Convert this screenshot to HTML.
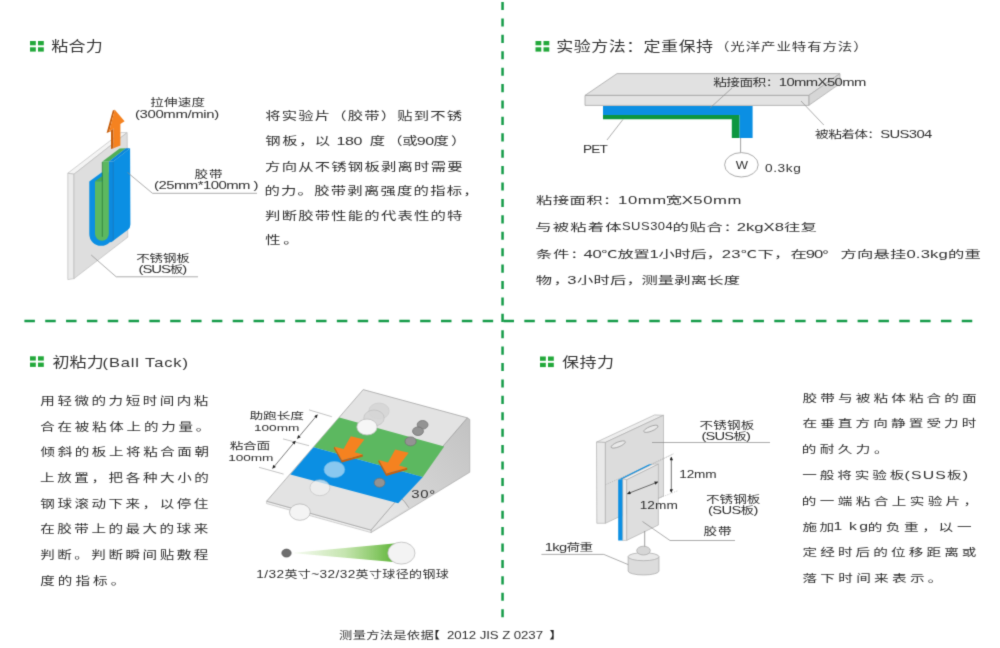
<!DOCTYPE html>
<html lang="zh-CN">
<head>
<meta charset="utf-8">
<title>粘合力 / 初粘力 / 保持力 测量方法</title>
<style>
html,body{margin:0;padding:0;background:#fff;}
body{width:1000px;height:648px;overflow:hidden;position:relative;font-family:"Liberation Sans","Noto Sans CJK SC",sans-serif;}
svg{position:absolute;left:0;top:0;display:block;}
</style>
</head>
<body>
<svg width="1000" height="648" viewBox="0 0 1000 648">
<defs>

<filter id="soft" x="0" y="0" width="1000" height="648" filterUnits="userSpaceOnUse" color-interpolation-filters="sRGB">
<feConvolveMatrix order="3" kernelMatrix="0.0170 0.0960 0.0170 0.0960 0.5480 0.0960 0.0170 0.0960 0.0170" edgeMode="none" preserveAlpha="false"/>
</filter>
<linearGradient id="cone" x1="0" x2="1" y1="0" y2="0">
<stop offset="0" stop-color="#7cc342" stop-opacity="0.05"/>
<stop offset="0.5" stop-color="#74c040" stop-opacity="0.42"/>
<stop offset="1" stop-color="#55b02f" stop-opacity="1"/>
</linearGradient>
<linearGradient id="side3" x1="0" x2="1" y1="1" y2="0">
<stop offset="0" stop-color="#e0e0e0"/>
<stop offset="1" stop-color="#c2c2c2"/>
</linearGradient>
<marker id="ah" viewBox="0 0 10 10" refX="9" refY="5" markerWidth="6.5" markerHeight="5" orient="auto-start-reverse">
<path d="M0 0 L10 5 L0 10 z" fill="#222"/>
</marker>
</defs>
<g filter="url(#soft)">
<path d="M502.55 2 V618" stroke="#149b48" stroke-width="2.5" stroke-dasharray="8.1 8.31" fill="none"/>
<path d="M24.4 320.9 H973" stroke="#149b48" stroke-width="2.5" stroke-dasharray="10.5 10.33" fill="none"/>
<g fill="#22a83a"><rect x="30.0" y="41.0" width="5.8" height="4.3"/><rect x="30.0" y="47.3" width="5.8" height="4.3"/><rect x="38.0" y="41.0" width="5.8" height="4.3"/><rect x="38.0" y="47.3" width="5.8" height="4.3"/></g>
<g fill="#22a83a"><rect x="535.5" y="41.0" width="5.8" height="4.3"/><rect x="535.5" y="47.3" width="5.8" height="4.3"/><rect x="543.5" y="41.0" width="5.8" height="4.3"/><rect x="543.5" y="47.3" width="5.8" height="4.3"/></g>
<g fill="#22a83a"><rect x="30.0" y="356.3" width="5.8" height="4.3"/><rect x="30.0" y="362.6" width="5.8" height="4.3"/><rect x="38.0" y="356.3" width="5.8" height="4.3"/><rect x="38.0" y="362.6" width="5.8" height="4.3"/></g>
<g fill="#22a83a"><rect x="540.0" y="356.5" width="5.8" height="4.3"/><rect x="540.0" y="362.8" width="5.8" height="4.3"/><rect x="548.0" y="356.5" width="5.8" height="4.3"/><rect x="548.0" y="362.8" width="5.8" height="4.3"/></g>

<g stroke-linejoin="round">
<!-- steel plate -->
<path d="M67.8 173.2 L120.8 132.6 L126.8 132.6 L74 174.2 z" fill="#f4f4f4" stroke="#b5b5b5" stroke-width="0.6"/>
<path d="M67.8 173.2 L74 174.2 L74 278.6 L67.8 279.6 z" fill="#ececec" stroke="#b5b5b5" stroke-width="0.6"/>
<path d="M74 174.2 L127.2 132.6 L127.8 237.2 L74 278.6 z" fill="#dedede" stroke="#b5b5b5" stroke-width="0.6"/>
<!-- blue tape, back piece on plate -->
<path d="M89.3 181.6 L101.6 172.4 L113 172.4 L113 234 A11.85 11.85 0 0 1 89.3 234 z" fill="#0b8fe3"/>
<!-- green inside of U -->
<path d="M95 181.2 L102.4 181.2 L102.4 161.6 L108.9 161.6 L108.9 233.8 A6.95 6.95 0 0 1 95 233.8 z" fill="#5cb860"/>
<path d="M95 181.2 L100.8 176.9 L102.4 176.5 L102.4 181.2 z" fill="#4aa552"/>
<path d="M102.3 162 V236.8" stroke="#2f7d3a" stroke-width="0.8" fill="none"/>
<!-- green + blue top faces going to plate -->
<path d="M102.4 161.6 L108.9 161.6 L125.8 148.2 L119.6 148.4 z" fill="#4fae57"/>
<path d="M108.9 161.6 L113.2 161.6 L130.1 148.3 L125.8 148.2 z" fill="#0a86da"/>
<!-- blue side strip -->
<path d="M108.9 161.6 L113.4 161.6 L113.4 240.6 Q111 243.6 108.9 241 z" fill="#0d8ade"/>
<!-- blue front (peeled) face -->
<path d="M113.2 161.6 L130.1 148.3 L130.4 224.4 Q130.4 228 127.6 230 L113.2 240.8 z" fill="#0b8fe3"/>
<path d="M113.3 161.8 V240.4" stroke="#0a6fb8" stroke-width="0.7" fill="none"/>
<!-- arrow -->
<path d="M114.8 109.7 L109.2 131.4 L113.6 128.6 L113.6 148.3 L111 148.9 L111 131.2 L106.6 133 L112.8 110.6 z" fill="#c8600f"/>
<path d="M114.8 109.7 L124.6 121.3 L120.4 124 L120.4 145.4 L113.6 148.3 L113.6 128.6 L109.2 131.4 z" fill="#f58220"/>
<!-- leaders -->
<path d="M127.5 172.5 L152.5 193.3 H257" stroke="#8a8a8a" stroke-width="0.7" fill="none"/>
<path d="M91.2 255 L116.2 276.8 H198" stroke="#8a8a8a" stroke-width="0.7" fill="none"/>
</g>


<g stroke-linejoin="round">
<path d="M585 95.4 L617 73.6 L840 73.6 L808.8 95.4 z" fill="#e1e1e1" stroke="#9e9e9e" stroke-width="0.7"/>
<path d="M808.8 95.4 L840 73.6 L840 83.6 L808.8 105.4 z" fill="#d6d6d6" stroke="#a8a8a8" stroke-width="0.7"/>
<path d="M585 95.4 H808.8 V105.4 H585 z" fill="#e3e3e3" stroke="#9e9e9e" stroke-width="0.7"/>
<path d="M603 106 H752.6 V138 H739.4 V115 H603 z" fill="#0b8fe3"/>
<path d="M603 115 H739.4 V138 H731.8 V119.2 H603 z" fill="#0d9640"/>
<path d="M740.6 138 V152.6" stroke="#777" stroke-width="0.7"/>
<ellipse cx="741.4" cy="164.8" rx="16.8" ry="12.2" fill="#fff" stroke="#888" stroke-width="0.7"/>
<path d="M732 88 L710 108" stroke="#8a8a8a" stroke-width="0.7"/>
<path d="M623 119.4 L607 140" stroke="#8a8a8a" stroke-width="0.7"/>
<path d="M801 101 L823.8 125" stroke="#8a8a8a" stroke-width="0.7"/>
</g>


<g stroke-linejoin="round">
<!-- side triangle -->
<path d="M467.3 417.8 L469.8 419.4 L469.8 472.2 L371 532.6 L371 530.1 z" fill="url(#side3)" stroke="#a0a0a0" stroke-width="0.6"/>
<!-- angle sector -->
<path d="M371 531 L399.6 496.7 A44 44 0 0 1 408.9 507.8 z" fill="#ffffff" fill-opacity="0.28"/>
<path d="M399.6 496.7 A44 44 0 0 1 408.9 507.8" fill="none" stroke="#8e8e8e" stroke-width="0.7"/>
<!-- front bottom strip -->
<path d="M266.6 501.2 L371 530.1 L371 532.6 L266.6 503.6 z" fill="#efefef" stroke="#a8a8a8" stroke-width="0.5"/>
<!-- incline -->
<path d="M363.2 389.6 L467.3 417.8 L371 530.1 L266.6 501.2 z" fill="#e3e3e3" stroke="#9c9c9c" stroke-width="0.7"/>
<!-- green band -->
<path d="M339.3 417.6 L444.2 446.6 L422.8 477 L313.6 447.2 z" fill="#5cb860"/>
<!-- blue band -->
<path d="M313.6 447.2 L422.8 477 L398.2 503.2 L290.4 474.4 z" fill="#0b8fe3"/>
<ellipse cx="379.0" cy="411.0" rx="10.2" ry="8.0" fill="#d0d0d0" stroke="#bcbcbc" stroke-width="0.7" opacity="0.60"/><ellipse cx="374.0" cy="418.0" rx="10.2" ry="8.0" fill="#d6d6d6" stroke="#b8b8b8" stroke-width="0.7" opacity="0.80"/><ellipse cx="367.0" cy="427.0" rx="10.2" ry="8.0" fill="#f6f6f6" stroke="#bdbdbd" stroke-width="0.8" opacity="1.00"/><ellipse cx="422.6" cy="424.8" rx="5.4" ry="4.3" fill="#939393" stroke="#747474" stroke-width="0.8" opacity="1.00"/><ellipse cx="418.0" cy="431.2" rx="5.4" ry="4.3" fill="#939393" stroke="#747474" stroke-width="0.8" opacity="1.00"/><ellipse cx="410.6" cy="441.4" rx="5.6" ry="4.5" fill="#939393" stroke="#747474" stroke-width="0.8" opacity="1.00"/><polygon points="334.6 446.7 342.0 460.2 362.7 454.4 362.9 456.4 341.8 462.6 333.8 448.2" fill="#c8600f"/><polygon points="350.8 436.3 364.3 439.4 354.7 452.2 362.7 454.4 342.0 460.2 334.6 446.7 343.6 449.1" fill="#f58220"/><polygon points="379.0 460.0 386.4 473.5 407.1 467.7 407.3 469.7 386.2 475.9 378.2 461.5" fill="#c8600f"/><polygon points="395.2 449.6 408.7 452.7 399.1 465.5 407.1 467.7 386.4 473.5 379.0 460.0 388.0 462.4" fill="#f58220"/><ellipse cx="334.4" cy="469.6" rx="10.4" ry="8.1" fill="#d6ecf8" stroke="#9fd0ee" stroke-width="0.7" opacity="0.62"/><ellipse cx="319.9" cy="487.7" rx="10.0" ry="8.0" fill="#f2f2f2" stroke="#b8b8b8" stroke-width="0.7" opacity="0.70"/><ellipse cx="299.9" cy="512.1" rx="10.4" ry="8.2" fill="#f4f4f4" stroke="#b0b0b0" stroke-width="0.7" opacity="1.00"/><ellipse cx="379.6" cy="482.7" rx="5.4" ry="4.5" fill="#939393" stroke="#747474" stroke-width="0.8" opacity="1.00"/><path d="M291 553.1 L399 543 L399 562.6 z" fill="url(#cone)"/><ellipse cx="286.5" cy="553.1" rx="4.7" ry="4.0" fill="#6e6e6e" stroke="#5a5a5a" stroke-width="0.7" opacity="1.00"/><ellipse cx="401.4" cy="553.1" rx="13.6" ry="11.0" fill="#f3f3f3" stroke="#b4b4b4" stroke-width="0.7" opacity="1.00"/>
<g stroke="#9a9a9a" stroke-width="0.6" fill="none">
<path d="M309 409.9 L331.8 416.7"/>
<path d="M283 438.9 L309 445.7"/>
<path d="M259 467.3 L283.6 474.1"/>
</g>
<g stroke="#444" stroke-width="0.7" fill="none">
<path d="M317.4 414.8 L297.4 438.6" marker-start="url(#ah)" marker-end="url(#ah)"/>
<path d="M295.4 441 L272.6 468.4" marker-start="url(#ah)" marker-end="url(#ah)"/>
</g>
</g>


<g stroke-linejoin="round">
<!-- big plate -->
<path d="M596.5 442.1 L654.7 414.9 L663.5 415.3 L605.4 442.4 z" fill="#ededed" stroke="#a8a8a8" stroke-width="0.6"/>
<path d="M596.5 442.1 L605.4 442.4 L605.4 523.3 L596.8 523.3 z" fill="#e9e9e9" stroke="#a8a8a8" stroke-width="0.6"/>
<path d="M605.4 442.4 L663.5 415.3 L663.5 496 L605.4 523.3 z" fill="#dcdcdc" stroke="#a8a8a8" stroke-width="0.6"/>
<ellipse cx="618.2" cy="444.5" rx="7.6" ry="2.4" transform="rotate(-22 618.2 444.5)" fill="#e9e9e9" stroke="#8a8a8a" stroke-width="0.6"/>
<ellipse cx="650.9" cy="428.8" rx="7.6" ry="2.4" transform="rotate(-22 650.9 428.8)" fill="#e9e9e9" stroke="#8a8a8a" stroke-width="0.6"/>
<path d="M605.4 484.8 L673.3 454" stroke="#9a9a9a" stroke-width="0.5" stroke-dasharray="1.2 1.2"/>
<!-- blue tape -->
<path d="M618.2 479.7 L648.7 464.5 L653 464.1 L622.8 478.9 z" fill="#0b8fe3"/>
<path d="M618.2 479.7 L622.8 478.9 L622.8 540.6 L618.2 540.6 z" fill="#0b8fe3"/>
<!-- small plate -->
<path d="M622.8 478.9 L653 464.1 L658.4 464.1 L626.7 479.7 z" fill="#f0f0f0" stroke="#a8a8a8" stroke-width="0.5"/>
<path d="M622.8 478.9 L626.7 479.7 L626.7 540.4 L622.8 540.6 z" fill="#ececec" stroke="#a8a8a8" stroke-width="0.5"/>
<path d="M626.7 479.7 L658.4 464.1 L658.4 525 L626.7 540.4 z" fill="#dedede" stroke="#a8a8a8" stroke-width="0.6"/>
<!-- dims -->
<g stroke="#9a9a9a" stroke-width="0.5" stroke-dasharray="1.2 1.2" fill="none">
<path d="M653 464.1 L674.2 453.4"/>
<path d="M658.4 498.4 L677.6 490.8"/>
</g>
<g stroke="#333" stroke-width="0.7" fill="none">
<path d="M671.3 457 V492.4" marker-start="url(#ah)" marker-end="url(#ah)"/>
<path d="M627.4 493.8 L657.8 482" marker-start="url(#ah)" marker-end="url(#ah)"/>
</g>
<!-- weight -->
<path d="M644.7 531.2 V547" stroke="#777" stroke-width="0.7"/>
<path d="M628.1 556.7 V571 A15.45 4 0 0 0 659 571 V556.7 z" fill="#dcdcdc" stroke="#9a9a9a" stroke-width="0.6"/>
<ellipse cx="643.55" cy="556.7" rx="15.45" ry="4" fill="#e8e8e8" stroke="#9a9a9a" stroke-width="0.6"/>
<ellipse cx="643.5" cy="550.6" rx="6.8" ry="4.4" fill="#d6d6d6" stroke="#9a9a9a" stroke-width="0.6"/>
<!-- leaders -->
<g stroke="#8a8a8a" stroke-width="0.7" fill="none">
<path d="M652 442.5 H770"/>
<path d="M642.5 521.5 L670 540.5 H735"/>
<path d="M541.4 554.4 H603.8 L628.2 564.6"/>
</g>
</g>

<g id="txt" font-family="'Liberation Sans', 'Noto Sans CJK SC', sans-serif" fill="#303030">
<!-- top-left -->
<text transform="translate(51.34 51.09) scale(1.27 1)" font-size="13.4" letter-spacing="0.15" fill="#333">粘合力</text>
<text transform="translate(150.22 106.22) scale(1.38 1)" font-size="9.8" letter-spacing="0.17">拉伸速度</text>
<text transform="translate(134.88 117.51) scale(1.38 1)" font-size="10.8" letter-spacing="-0.24">(300mm/min)</text>
<text transform="translate(194.58 177.92) scale(1.38 1)" font-size="9.8" letter-spacing="0.75">胶带</text>
<text transform="translate(154.08 189.11) scale(1.38 1)" font-size="10.8" letter-spacing="-0.39">(25mm*100mm )</text>
<text transform="translate(136.20 261.52) scale(1.38 1)" font-size="9.8" letter-spacing="-0.09">不锈钢板</text>
<text transform="translate(138.58 272.72) scale(1.38 1)" font-size="10.8" letter-spacing="-0.79">(SUS<tspan font-size="9.8">板</tspan>)</text>
<text transform="translate(265.20 120.19) scale(1.36 1)" font-size="11.3" letter-spacing="0.86">将实验片（胶带）贴到不锈</text>
<text transform="translate(265.31 145.29) scale(1.36 1)" font-size="11.3" letter-spacing="1.13">钢板，</text>
<text transform="translate(314.66 145.29) scale(1.36 1)" font-size="11.3">以</text>
<text transform="translate(336.58 145.05) scale(1.356 1)" font-size="11.8" letter-spacing="-0.31">180</text>
<text transform="translate(369.63 145.29) scale(1.36 1)" font-size="11.3">度</text>
<text transform="translate(387.31 145.29) scale(1.36 1)" font-size="11.3">（</text>
<text transform="translate(402.15 145.29) scale(1.36 1)" font-size="11.3" letter-spacing="-0.46">或<tspan font-size="11.8">90</tspan>度</text>
<text transform="translate(450.91 145.29) scale(1.36 1)" font-size="11.3">）</text>
<text transform="translate(265.09 170.59) scale(1.36 1)" font-size="11.3" letter-spacing="0.89">方向从不锈钢板剥离时需要</text>
<text transform="translate(264.46 195.29) scale(1.36 1)" font-size="11.3" letter-spacing="0.90">的力。胶带剥离强度的指标，</text>
<text transform="translate(265.09 219.99) scale(1.36 1)" font-size="11.3" letter-spacing="0.88">判断胶带性能的代表性的特</text>
<text transform="translate(265.37 244.49) scale(1.36 1)" font-size="11.3" letter-spacing="1.86">性。</text>
<!-- top-right -->
<text transform="translate(556.29 51.29) scale(1.27 1)" font-size="13.4" letter-spacing="0.37" fill="#333">实验方法：定重保持</text>
<text transform="translate(715.02 50.95) scale(1.24 1)" font-size="11.7" letter-spacing="0.70" fill="#333">（光洋产业特有方法）</text>
<text transform="translate(713.23 86.02) scale(1.4 1)" font-size="9.8" letter-spacing="-0.42">粘接面积：<tspan font-size="10.6">10mmX50mm</tspan></text>
<text transform="translate(815.09 137.52) scale(1.4 1)" font-size="9.8" letter-spacing="-0.47">被粘着体：<tspan font-size="10.6">SUS304</tspan></text>
<text transform="translate(582.88 152.56) scale(1.3 1)" font-size="10.5" letter-spacing="-0.58">PET</text>
<text transform="translate(735.74 169.18) scale(1.3 1)" font-size="10">W</text>
<text transform="translate(764.97 171.76) scale(1.3 1)" font-size="10.5" letter-spacing="0.48">0.3kg</text>
<text transform="translate(536.06 204.03) scale(1.54 1)" font-size="10.6" letter-spacing="0.26">粘接面积：</text>
<text transform="translate(618.03 203.79) scale(1.546 1)" font-size="10.8" letter-spacing="0.37">10mm</text>
<text transform="translate(665.71 204.03) scale(1.54 1)" font-size="10.6">宽</text>
<text transform="translate(681.63 203.79) scale(1.546 1)" font-size="10.8" letter-spacing="0.39">X50mm</text>
<text transform="translate(535.37 230.63) scale(1.54 1)" font-size="10.6" letter-spacing="0.77">与被粘着体</text>
<text transform="translate(621.91 230.39) scale(1.204 1)" font-size="10.8" letter-spacing="0.42">SUS304</text>
<text transform="translate(672.38 230.63) scale(1.54 1)" font-size="10.6" letter-spacing="0.47">的贴合：</text>
<text transform="translate(736.66 230.63) scale(1.54 1)" font-size="10.6" letter-spacing="0.03"><tspan font-size="10.8">2kgX8</tspan>往复</text>
<text transform="translate(535.73 258.03) scale(1.54 1)" font-size="10.6" letter-spacing="0.60">条件：</text>
<text transform="translate(583.42 258.03) scale(1.54 1)" font-size="10.6" letter-spacing="-0.18"><tspan font-size="10.8">40</tspan>℃放置<tspan font-size="10.8">1</tspan>小时后，</text>
<text transform="translate(721.66 258.03) scale(1.54 1)" font-size="10.6" letter-spacing="0.21"><tspan font-size="10.8">23</tspan>℃下，</text>
<text transform="translate(790.58 258.03) scale(1.54 1)" font-size="10.6" letter-spacing="-0.69">在<tspan font-size="10.8">90</tspan>°</text>
<text transform="translate(840.45 258.03) scale(1.54 1)" font-size="10.6" letter-spacing="0.12">方向悬挂<tspan font-size="10.8">0.3kg</tspan>的重</text>
<text transform="translate(535.83 284.43) scale(1.54 1)" font-size="10.6" letter-spacing="0.83">物，</text>
<text transform="translate(567.37 284.43) scale(1.54 1)" font-size="10.6" letter-spacing="0.17"><tspan font-size="10.8">3</tspan>小时后，</text>
<text transform="translate(641.38 284.43) scale(1.54 1)" font-size="10.6" letter-spacing="0.12">测量剥离长度</text>
<!-- bottom-left -->
<text transform="translate(52.40 366.89) scale(1.27 1)" font-size="13.4" letter-spacing="0.13" fill="#333">初粘力</text>
<text transform="translate(102.58 366.53) scale(1.25 1)" font-size="13.2" letter-spacing="0.69" fill="#333">(Ball Tack)</text>
<text transform="translate(40.33 405.16) scale(1.3 1)" font-size="11.2" letter-spacing="1.94">用轻微的力短时间内粘</text>
<text transform="translate(40.22 430.81) scale(1.3 1)" font-size="11.2" letter-spacing="2.11">合在被粘体上的力量。</text>
<text transform="translate(40.55 456.46) scale(1.3 1)" font-size="11.2" letter-spacing="1.97">倾斜的板上将粘合面朝</text>
<text transform="translate(40.06 482.11) scale(1.3 1)" font-size="11.2" letter-spacing="2.00">上放置，把各种大小的</text>
<text transform="translate(40.33 507.76) scale(1.3 1)" font-size="11.2" letter-spacing="1.93">钢球滚动下来，以停住</text>
<text transform="translate(40.25 533.41) scale(1.3 1)" font-size="11.2" letter-spacing="1.93">在胶带上的最大的球来</text>
<text transform="translate(40.13 559.06) scale(1.3 1)" font-size="11.2" letter-spacing="1.95">判断。判断瞬间贴敷程</text>
<text transform="translate(40.26 584.71) scale(1.3 1)" font-size="11.2" letter-spacing="2.36">度的指标。</text>
<text transform="translate(249.53 419.15) scale(1.43 1)" font-size="9.6" letter-spacing="-0.10">助跑长度</text>
<text transform="translate(253.96 430.94) scale(1.38 1)" font-size="9.9" letter-spacing="-0.02">100mm</text>
<text transform="translate(229.63 449.45) scale(1.43 1)" font-size="9.6" letter-spacing="-0.23">粘合面</text>
<text transform="translate(228.36 460.94) scale(1.38 1)" font-size="9.9" letter-spacing="-0.09">100mm</text>
<text transform="translate(411.13 497.72) scale(1.3 1)" font-size="11.5" letter-spacing="0.53">30°</text>
<text transform="translate(256.36 578.00) scale(1.3 1)" font-size="10" letter-spacing="0.30"><tspan font-size="10.5">1/32</tspan>英寸<tspan font-size="10.5">~32/32</tspan>英寸球径的钢球</text>
<text transform="translate(339.10 639.48) scale(1.3 1)" font-size="10.2" letter-spacing="0.24" fill="#333">测量方法是依据</text>
<text transform="translate(426.77 639.48) scale(1.3 1)" font-size="10.2" fill="#222">【</text>
<text transform="translate(446.93 639.25) scale(1.3 1)" font-size="10.2" letter-spacing="-0.06" fill="#333">2012 JIS Z 0237</text>
<text transform="translate(549.15 639.48) scale(1.3 1)" font-size="10.2" fill="#222">】</text>
<!-- bottom-right -->
<text transform="translate(562.11 366.69) scale(1.27 1)" font-size="13.4" letter-spacing="0.36" fill="#333">保持力</text>
<text transform="translate(802.55 401.53) scale(1.38 1)" font-size="10.6" letter-spacing="2.25">胶带与被粘体粘合的面</text>
<text transform="translate(802.44 427.33) scale(1.38 1)" font-size="10.6" letter-spacing="2.24">在垂直方向静置受力时</text>
<text transform="translate(801.73 453.13) scale(1.38 1)" font-size="10.6" letter-spacing="2.48">的耐久力。</text>
<text transform="translate(802.36 478.93) scale(1.38 1)" font-size="10.6" letter-spacing="2.08">一般将实验板</text>
<text transform="translate(904.62 478.93) scale(1.386 1)" font-size="11.4" letter-spacing="0.83">(SUS<tspan font-size="10.6">板</tspan>)</text>
<text transform="translate(801.73 504.73) scale(1.38 1)" font-size="10.6" letter-spacing="2.44">的一端粘合上实验片，</text>
<text transform="translate(802.52 530.53) scale(1.38 1)" font-size="10.6" letter-spacing="1.80">施加</text>
<text transform="translate(833.40 530.29) scale(1.386 1)" font-size="11.4">1</text>
<text transform="translate(848.94 530.29) scale(1.386 1)" font-size="11.4" letter-spacing="1.73">kg</text>
<text transform="translate(867.73 530.53) scale(1.38 1)" font-size="10.6" letter-spacing="2.55">的负重，</text>
<text transform="translate(938.54 530.53) scale(1.38 1)" font-size="10.6" letter-spacing="2.75">以一</text>
<text transform="translate(802.47 556.33) scale(1.38 1)" font-size="10.6" letter-spacing="2.24">定经时后的位移距离或</text>
<text transform="translate(802.40 582.13) scale(1.38 1)" font-size="10.6" letter-spacing="2.39">落下时间来表示。</text>
<text transform="translate(699.40 428.80) scale(1.36 1)" font-size="10" letter-spacing="0.16">不锈钢板</text>
<text transform="translate(701.59 440.30) scale(1.36 1)" font-size="10.8" letter-spacing="-0.63">(SUS<tspan font-size="10">板</tspan>)</text>
<text transform="translate(679.36 478.26) scale(1.3 1)" font-size="10.5" letter-spacing="-0.18">12mm</text>
<text transform="translate(639.66 508.96) scale(1.3 1)" font-size="10.5" letter-spacing="0.08">12mm</text>
<text transform="translate(705.90 502.80) scale(1.36 1)" font-size="10" letter-spacing="0.04">不锈钢板</text>
<text transform="translate(708.09 514.30) scale(1.36 1)" font-size="10.8" letter-spacing="-0.48">(SUS<tspan font-size="10">板</tspan>)</text>
<text transform="translate(703.58 535.30) scale(1.36 1)" font-size="10" letter-spacing="0.65">胶带</text>
<text transform="translate(544.78 550.80) scale(1.36 1)" font-size="10.8" letter-spacing="-0.47">1kg<tspan font-size="10">荷重</tspan></text>
</g>
</g>
</svg>
</body>
</html>
